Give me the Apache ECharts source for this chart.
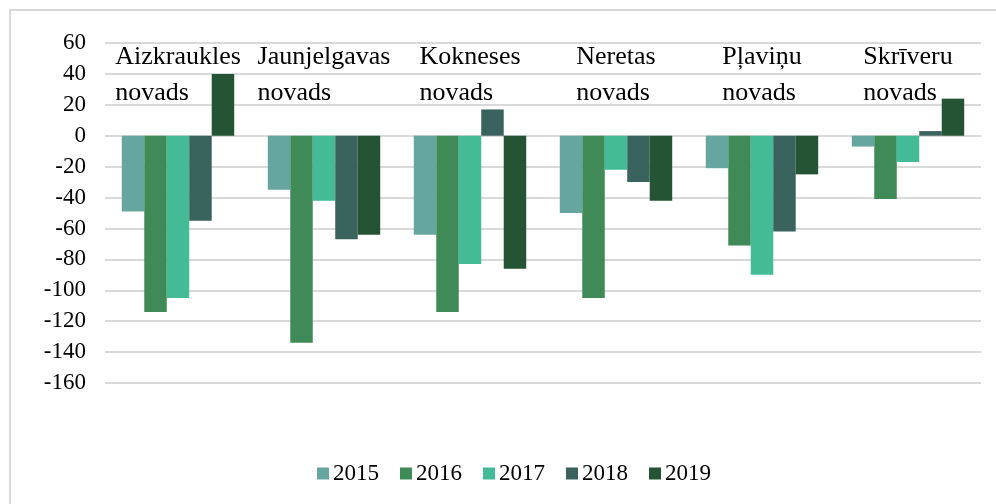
<!DOCTYPE html>
<html>
<head>
<meta charset="utf-8">
<script src="https://cdn.jsdelivr.net/npm/echarts@6/dist/echarts.min.js"></script>
<style>
  html, body { margin: 0; padding: 0; background: #fff; }
  #chart { width: 996px; height: 504px; }
</style>
</head>
<body>
<div id="chart"></div>
<script>
// municipalities (category axis, labels drawn at the top of the plot)
const categories = [
    'Aizkraukles\nnovads',
    'Jaunjelgavas\nnovads',
    'Kokneses\nnovads',
    'Neretas\nnovads',
    'Pļaviņu\nnovads',
    'Skrīveru\nnovads'
];
const years = ['2015', '2016', '2017', '2018', '2019'];

// values
const values2015 = [-49, -35, -64, -50, -21, -7];
const values2016 = [-114, -134, -114, -105, -71, -41];
const values2017 = [-105, -42, -83, -22, -90, -17];
const values2018 = [-55, -67, 17, -30, -62, 3];
const values2019 = [40, -64, -86, -42, -25, 24];

const yearColors = ['#66a5a0', '#3f8a56', '#42bb96', '#3a635d', '#255434'];

const seriesValues = [values2015, values2016, values2017, values2018, values2019];

const fontFamily = '"Liberation Serif", "Times New Roman", serif';
const textColor = '#000';

const chart = echarts.init(document.getElementById('chart'));

const options = {
    animation: false,
    textStyle: { fontFamily: fontFamily },
    color: yearColors,
    graphic: [{
        type: 'rect',
        shape: { x: 10, y: 10, width: 1000, height: 520 },
        style: { fill: 'none', stroke: '#d9d9d9', lineWidth: 2 },
        silent: true
    }],
    legend: {
        data: years,
        left: 312,
        top: 457,
        itemWidth: 12,
        itemHeight: 12,
        itemGap: 21,
        icon: 'rect',
        textStyle: {
            fontFamily: fontFamily,
            fontSize: 23,
            color: textColor,
            padding: [0, 0, 0, -1]
        }
    },
    grid: {
        left: 105,
        right: 15,
        top: 43,
        bottom: 121,
        containLabel: false
    },
    xAxis: {
        type: 'category',
        position: 'top',
        data: categories,
        axisLine: { show: false, onZero: false },
        axisTick: { show: false },
        axisLabel: {
            inside: true,
            margin: -4,
            interval: 0,
            formatter: function (value) {
                return value.split('\n').map(function (line) {
                    return '{l|' + line + '}';
                }).join('\n');
            },
            rich: {
                l: {
                    align: 'left',
                    fontFamily: fontFamily,
                    fontSize: 26,
                    lineHeight: 36,
                    color: textColor
                }
            }
        }
    },
    yAxis: {
        type: 'value',
        min: -160,
        max: 60,
        interval: 20,
        axisLine: { show: false },
        axisTick: { show: false },
        axisLabel: {
            margin: 19,
            fontFamily: fontFamily,
            fontSize: 23,
            color: textColor
        },
        splitLine: {
            lineStyle: { color: '#d9d9d9', width: 2 }
        }
    },
    series: years.map(function (year, i) {
        return {
            name: year,
            type: 'bar',
            data: seriesValues[i],
            barGap: 0,
            barCategoryGap: '23%',
            itemStyle: { color: yearColors[i] }
        };
    })
};

chart.setOption(options);
</script>
</body>
</html>
